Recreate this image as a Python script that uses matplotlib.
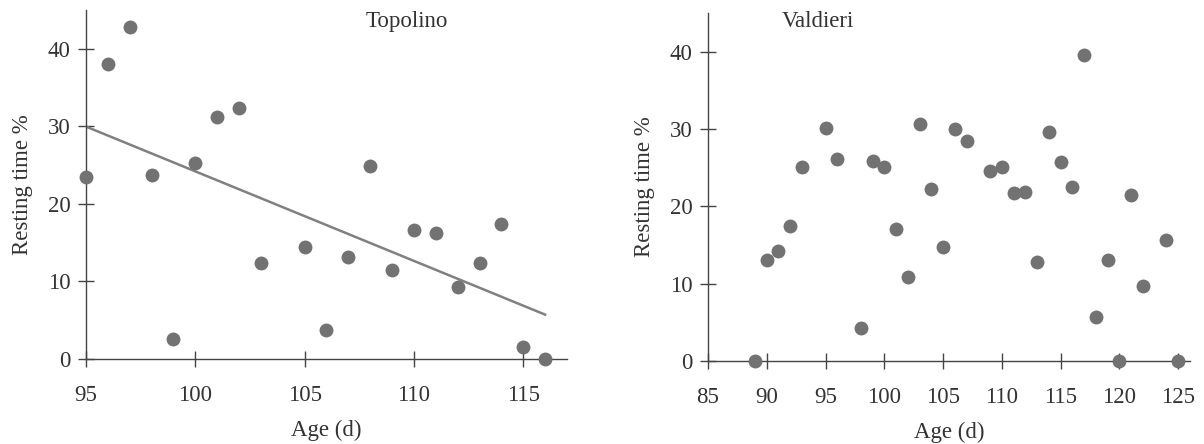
import numpy as np
import matplotlib.pyplot as plt

# Topolino
topo_age = [95, 96, 97, 98, 99, 100, 101, 102, 103, 105, 106, 107, 108,
            109, 110, 111, 112, 113, 114, 115, 116]
topo_rest = [23.5, 38, 42.8, 23.7, 2.6, 25.3, 31.2, 32.4, 12.4, 14.5, 3.7,
             13.1, 24.9, 11.5, 16.6, 16.2, 9.3, 12.4, 17.4, 1.6, 0]

# Valdieri
vald_age = [89, 90, 91, 92, 93, 95, 96, 98, 99, 100, 101, 102, 103, 104,
            105, 106, 107, 109, 110, 111, 112, 113, 114, 115, 116, 117,
            118, 119, 120, 121, 122, 124, 125]
vald_rest = [0, 13.1, 14.2, 17.5, 25.1, 30.1, 26.1, 4.2, 25.8, 25.1, 17.0,
             10.8, 30.6, 22.2, 14.7, 30.0, 28.5, 24.5, 25.1, 21.7, 21.9,
             12.8, 29.6, 25.7, 22.5, 39.5, 5.7, 13.1, 0, 21.4, 9.7, 15.6, 0]

topo_xticks = [95, 100, 105, 110, 115]
vald_xticks = [85, 90, 95, 100, 105, 110, 115, 120, 125]
yticks = [0, 10, 20, 30, 40]

plt.rcParams["font.family"] = ["Liberation Serif", "DejaVu Serif"]
txt = "#333333"
dot = "#727272"
fs = 16.5

fig = plt.figure(figsize=(12.04, 4.44), dpi=100)
ax1 = fig.add_axes([0.0714, 0.1914, 0.3995, 0.786])
ax2 = fig.add_axes([0.588, 0.187, 0.4003, 0.784])


def style(ax, xlim, xticks):
    ax.set_xlim(*xlim)
    ax.set_ylim(0, 45)
    ax.set_xticks(xticks)
    ax.set_yticks(yticks)
    for s in ["top", "right"]:
        ax.spines[s].set_visible(False)
    for s in ["left", "bottom"]:
        ax.spines[s].set_color("#444444")
        ax.spines[s].set_linewidth(1.0)
    ax.tick_params(axis="both", direction="inout", length=12, width=1.0,
                   color="#444444", labelcolor=txt, labelsize=fs)
    ax.tick_params(axis="x", pad=13)
    ax.tick_params(axis="y", pad=5)
    ax.set_xlabel("Age (d)", fontsize=fs, color=txt, labelpad=10)
    ax.set_ylabel("Resting time %", fontsize=fs, color=txt, labelpad=11)


style(ax1, (95, 117), topo_xticks)
style(ax2, (85, 126), vald_xticks)

ax1.scatter(topo_age, topo_rest, s=100, color=dot, zorder=3, clip_on=False,
            linewidths=0)
coef = np.polyfit(topo_age, topo_rest, 1)
xx = np.array([min(topo_age), max(topo_age)])
ax1.plot(xx, np.polyval(coef, xx), color="#808080", lw=1.8, zorder=2)
ax1.text(0.667, 0.966, "Topolino", transform=ax1.transAxes, ha="center",
         va="center", fontsize=fs, color=txt)

ax2.scatter(vald_age, vald_rest, s=100, color=dot, zorder=3, clip_on=False,
            linewidths=0)
ax2.text(0.228, 0.974, "Valdieri", transform=ax2.transAxes, ha="center",
         va="center", fontsize=fs, color=txt)

fig.savefig("out.png", dpi=100)
plt.close()
